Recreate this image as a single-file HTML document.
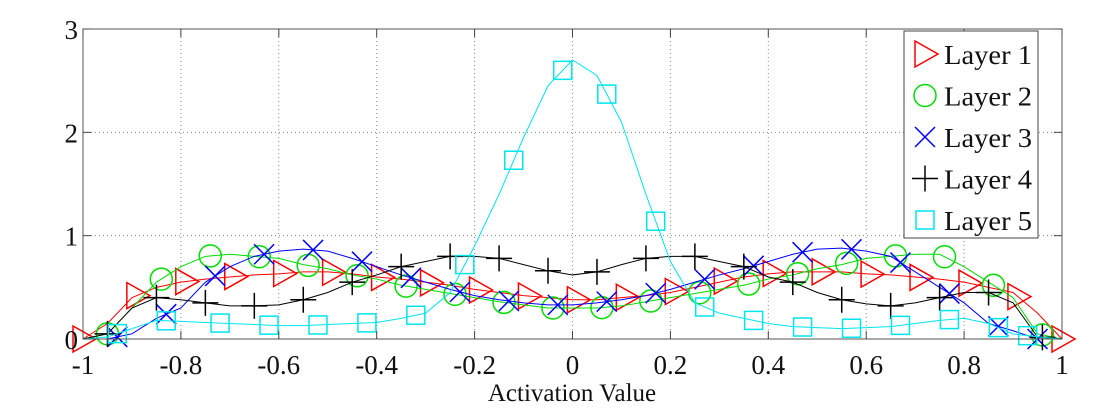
<!DOCTYPE html>
<html><head><meta charset="utf-8"><style>
html,body{margin:0;padding:0;background:#fff;}
svg{display:block;font-family:"Liberation Serif",serif;}
</style></head><body>
<svg id="chart" width="1108" height="408" viewBox="0 0 1108 408" xmlns="http://www.w3.org/2000/svg"></svg>
<script>
const xs = [-1,-0.95,-0.9,-0.85,-0.8,-0.75,-0.7,-0.65,-0.6,-0.55,-0.5,-0.45,-0.4,-0.35,-0.3,-0.25,-0.2,-0.15,-0.1,-0.05,0,0.05,0.1,0.15,0.2,0.25,0.3,0.35,0.4,0.45,0.5,0.55,0.6,0.65,0.7,0.75,0.8,0.85,0.9,0.95,1];
const layer1 = [0,0.15,0.4,0.5,0.55,0.58,0.6,0.62,0.63,0.65,0.65,0.63,0.6,0.58,0.55,0.52,0.48,0.45,0.42,0.4,0.38,0.38,0.4,0.42,0.45,0.5,0.55,0.6,0.63,0.65,0.65,0.65,0.63,0.62,0.6,0.58,0.55,0.5,0.45,0.25,0];
const layer2 = [0,0.05,0.3,0.55,0.7,0.8,0.82,0.8,0.78,0.72,0.68,0.62,0.58,0.52,0.48,0.44,0.4,0.36,0.33,0.3,0.3,0.3,0.32,0.36,0.4,0.44,0.48,0.52,0.58,0.62,0.68,0.72,0.78,0.8,0.82,0.82,0.7,0.55,0.4,0.05,0];
const layer3 = [0,0,0.05,0.2,0.3,0.55,0.7,0.8,0.85,0.87,0.85,0.78,0.7,0.62,0.55,0.48,0.42,0.38,0.35,0.33,0.33,0.35,0.38,0.42,0.48,0.55,0.62,0.68,0.75,0.82,0.87,0.88,0.85,0.8,0.65,0.5,0.35,0.15,0.08,0,0];
const layer4 = [0,0.05,0.3,0.4,0.38,0.35,0.32,0.32,0.33,0.38,0.45,0.55,0.62,0.7,0.75,0.8,0.8,0.78,0.72,0.66,0.62,0.65,0.72,0.78,0.8,0.8,0.75,0.7,0.6,0.55,0.45,0.38,0.34,0.32,0.35,0.4,0.45,0.45,0.35,0.02,0];
const layer5 = [0,0.02,0.1,0.18,0.17,0.16,0.15,0.14,0.13,0.13,0.14,0.15,0.16,0.2,0.25,0.45,0.9,1.4,1.95,2.45,2.7,2.55,2.1,1.4,0.75,0.35,0.25,0.2,0.15,0.12,0.11,0.1,0.11,0.12,0.15,0.18,0.2,0.15,0.05,0.02,0];
const markX1 = [-1,-0.89,-0.79,-0.69,-0.59,-0.49,-0.39,-0.29,-0.19,-0.09,0.01,0.11,0.21,0.31,0.41,0.51,0.61,0.71,0.81,0.91,1];
const markX2 = [-0.95,-0.84,-0.74,-0.64,-0.54,-0.44,-0.34,-0.24,-0.14,-0.04,0.06,0.16,0.26,0.36,0.46,0.56,0.66,0.76,0.86,0.96];
const markX3 = [-0.93,-0.83,-0.73,-0.63,-0.53,-0.43,-0.33,-0.23,-0.13,-0.03,0.07,0.17,0.27,0.37,0.47,0.57,0.67,0.77,0.87,0.95];
const markX4 = [-0.95,-0.85,-0.75,-0.65,-0.55,-0.45,-0.35,-0.25,-0.15,-0.05,0.05,0.15,0.25,0.35,0.45,0.55,0.65,0.75,0.85,0.96];
const markX5 = [-0.93,-0.83,-0.72,-0.62,-0.52,-0.42,-0.32,-0.22,-0.12,-0.02,0.07,0.17,0.27,0.37,0.47,0.57,0.67,0.77,0.87,0.93];
const xTicks = [-1,-0.8,-0.6,-0.4,-0.2,0,0.2,0.4,0.6,0.8,1];
const xTickLabels = ["-1","-0.8","-0.6","-0.4","-0.2","0","0.2","0.4","0.6","0.8","1"];
const yTicks = [0,1,2,3];
const yTickLabels = ["0","1","2","3"];
const seriesNames = ["Layer 1","Layer 2","Layer 3","Layer 4","Layer 5"];

const NS="http://www.w3.org/2000/svg";
const svg=document.getElementById('chart');
const L=83,R=1062,T=29,B=339;
const sx=v=>L+(v+1)/2*(R-L);
const sy=v=>B-v/3*(B-T);
function el(tag,attrs,parent){const e=document.createElementNS(NS,tag);for(const k in attrs)e.setAttribute(k,attrs[k]);(parent||svg).appendChild(e);return e;}
function interp(arr,x){for(let i=0;i<xs.length-1;i++){if(x>=xs[i]&&x<=xs[i+1]){const t=(x-xs[i])/(xs[i+1]-xs[i]);return arr[i]+t*(arr[i+1]-arr[i]);}}return arr[arr.length-1];}

const grid=el('g',{});


xTicks.forEach((t,i)=>{if(i>0&&i<xTicks.length-1){const g=el('line',{x1:sx(t),x2:sx(t),y1:T,y2:B,stroke:'#888','stroke-width':1,'stroke-dasharray':'1,3'},grid);}});
yTicks.forEach((t,i)=>{if(i>0&&i<yTicks.length-1){const g=el('line',{x1:L,x2:R,y1:sy(t),y2:sy(t),stroke:'#888','stroke-width':1,'stroke-dasharray':'1,3'},grid);}});

const colors=['#ff0000','#00dd00','#0000ff','#000000','#00e5ee'];
const data=[layer1,layer2,layer3,layer4,layer5];
const marks=[markX1,markX2,markX3,markX4,markX5];
const kinds=['tri','circ','x','plus','sq'];
function marker(kind,x,y,c,parent){
  let m;
  if(kind==='tri') m=el('polygon',{points:`${x-10},${y-13} ${x+13},${y} ${x-10},${y+13}`,fill:'none',stroke:c,'stroke-width':1.5},parent);
  else if(kind==='circ') m=el('circle',{cx:x,cy:y,r:11,fill:'none',stroke:c,'stroke-width':1.5},parent);
  else if(kind==='x') m=el('path',{d:`M${x-10},${y-10}L${x+10},${y+10}M${x-10},${y+10}L${x+10},${y-10}`,stroke:c,'stroke-width':1.5},parent);
  else if(kind==='plus') m=el('path',{d:`M${x-13},${y}L${x+13},${y}M${x},${y-13}L${x},${y+13}`,stroke:c,'stroke-width':1.5},parent);
  else m=el('rect',{x:x-9,y:y-9,width:18,height:18,fill:'none',stroke:c,'stroke-width':1.5},parent);
  return m;
}
data.forEach((arr,si)=>{
  const g=el('g',{});
  
  
  const p=el('polyline',{points:arr.map((v,i)=>sx(xs[i])+','+sy(v)).join(' '),fill:'none',stroke:colors[si],'stroke-width':1},g);
  
  
  marks[si].forEach(mx=>{
    const m=marker(kinds[si],sx(mx),sy(interp(arr,mx)),colors[si],g);
    
    
  });
});

const axes=el('rect',{x:L,y:T,width:R-L,height:B-T,fill:'none',stroke:'#555','stroke-width':1});


xTicks.forEach((t,i)=>{
  el('line',{x1:sx(t),x2:sx(t),y1:B,y2:B-8,stroke:'#444'});
  el('line',{x1:sx(t),x2:sx(t),y1:T,y2:T+8,stroke:'#444'});
  const tx=el('text',{x:sx(t),y:374,'font-size':27,'text-anchor':'middle',fill:'#111'});
  tx.textContent=xTickLabels[i];
  
  
});
yTicks.forEach((t,i)=>{
  el('line',{x1:L,x2:L+8,y1:sy(t),y2:sy(t),stroke:'#444'});
  el('line',{x1:R,x2:R-8,y1:sy(t),y2:sy(t),stroke:'#444'});
  const tx=el('text',{x:78,y:sy(t)+10,'font-size':27,'text-anchor':'end',fill:'#111'});
  tx.textContent=yTickLabels[i];
  
  
});
const xl=el('text',{x:572,y:401,'font-size':25,'text-anchor':'middle',fill:'#111'});
xl.textContent='Activation Value';



const lg=el('g',{});


const lb=el('rect',{x:904,y:31,width:134,height:207,fill:'#fff',stroke:'#444','stroke-width':1},lg);


seriesNames.forEach((n,i)=>{
  const y=54+i*41.5;
  const e=el('g',{},lg);
  
  
  marker(kinds[i],925,y,colors[i],e);
  const t=el('text',{x:944,y:y+10,'font-size':27,fill:'#111',textLength:88,lengthAdjust:'spacingAndGlyphs'},e);
  t.textContent=n;
});
</script>
</body></html>
